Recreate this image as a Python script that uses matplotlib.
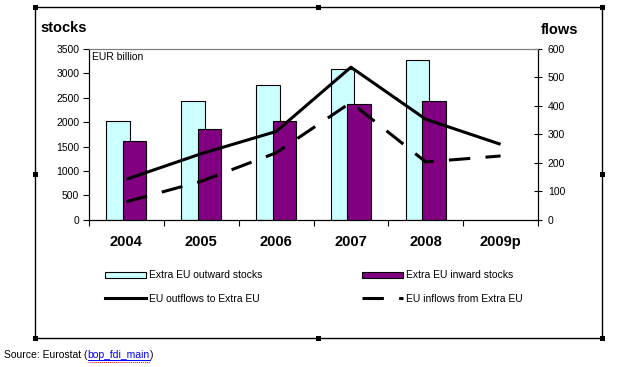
import numpy as np
import matplotlib
matplotlib.use("Agg")
import matplotlib.pyplot as plt
from matplotlib.patches import Rectangle, Patch
from matplotlib.lines import Line2D

plt.rcParams['font.family'] = ['Liberation Sans', 'DejaVu Sans']

# ---- data ----
years = ["2004", "2005", "2006", "2007", "2008", "2009p"]
outward_stocks = [2030, 2430, 2760, 3100, 3270, np.nan]
inward_stocks = [1620, 1850, 2030, 2370, 2430, np.nan]
outflows = [142, 232, 310, 536, 353, 265]
inflows = [63, 135, 235, 412, 203, 224]
stock_ticks = [0, 500, 1000, 1500, 2000, 2500, 3000, 3500]
flow_ticks = [0, 100, 200, 300, 400, 500, 600]

W, H = 627, 367
fig = plt.figure(figsize=(W / 100, H / 100), dpi=100)

def fx(x):
    return x / W

def fy(y):
    return 1 - y / H

# plot area in pixels
L, R, T, B = 89, 538, 49, 219.7
ax = fig.add_axes([fx(L), fy(B), fx(R) - fx(L), fy(T) - fy(B)])
ax2 = ax.twinx()

x = np.arange(len(years))
bw = 0.315
off = 0.11
ax.bar(x - off, outward_stocks, bw, color="#CCFFFF", edgecolor="black", linewidth=0.8, zorder=2)
ax.bar(x + off, inward_stocks, bw, color="#800080", edgecolor="black", linewidth=0.8, zorder=3)

ax2.plot(x, outflows, color="black", lw=2.2, solid_capstyle="butt")
ax2.plot(x, inflows, color="black", lw=2.2, dashes=(7, 5), dash_capstyle="butt")

ax.set_xlim(-0.5, len(years) - 0.5)
ax.set_ylim(0, 3500)
ax2.set_ylim(0, 600)
ax.set_yticks(stock_ticks)
ax.set_yticklabels([str(v) for v in stock_ticks], fontsize=7.5)
ax2.set_yticks(flow_ticks)
ax2.set_yticklabels([str(v) for v in flow_ticks], fontsize=7.5)

ax.set_xticks(np.arange(-0.5, len(years), 1.0))
ax.set_xticklabels([])
ax.set_xticks(x, minor=True)
ax.set_xticklabels(years, minor=True, fontsize=10.5, fontweight="bold")
ax.tick_params(axis="x", which="major", direction="out", length=4, width=0.8)
ax.tick_params(axis="x", which="minor", length=0, pad=11)
ax.tick_params(axis="y", direction="out", length=4, width=0.8, pad=3)
ax2.tick_params(axis="y", direction="inout", length=6, width=0.8, pad=4)

for a in (ax, ax2):
    a.spines["top"].set_color("#808080")
    a.spines["top"].set_linewidth(0.8)
    a.spines["left"].set_linewidth(0.8)
    a.spines["right"].set_linewidth(0.8)
    a.spines["bottom"].set_linewidth(0.8)

ax.text(0.006, 0.985, "EUR billion", transform=ax.transAxes, fontsize=7.5, va="top", ha="left")

fig.text(fx(40), fy(28), "stocks", fontsize=10.5, fontweight="bold", va="center", ha="left")
fig.text(fx(541), fy(30), "flows", fontsize=10.5, fontweight="bold", va="center", ha="left")

# legends
h1 = [Patch(facecolor="#CCFFFF", edgecolor="black", linewidth=0.8),
      Line2D([0], [0], color="black", lw=2.2)]
l1 = ["Extra EU outward stocks", "EU outflows to Extra EU"]
h2 = [Patch(facecolor="#800080", edgecolor="black", linewidth=0.8),
      Line2D([0], [0], color="black", lw=2.2, dashes=(7, 5))]
l2 = ["Extra EU inward stocks", "EU inflows from Extra EU"]
common = dict(frameon=False, fontsize=7.5, handlelength=3.9, handleheight=0.6,
              handletextpad=0.35, labelspacing=1.25, borderpad=0, borderaxespad=0,
              loc="upper left")
leg1 = fig.legend(h1, l1, bbox_to_anchor=(fx(105), fy(270.5)), **common)
leg2 = fig.legend(h2, l2, bbox_to_anchor=(fx(362), fy(270.5)), **common)

# outer border with selection handles
fig.add_artist(Rectangle((fx(35), fy(338)), fx(602) - fx(35), fy(7) - fy(338),
                         transform=fig.transFigure, fill=False, edgecolor="black", linewidth=1.0))
hs = 5
for (hx, hy) in [(35, 7), (318, 7), (602, 7), (35, 174), (602, 174), (35, 338), (318, 338), (602, 338)]:
    fig.add_artist(Rectangle((fx(hx - hs / 2), fy(hy + hs / 2)), hs / W, hs / H,
                             transform=fig.transFigure, facecolor="black", edgecolor="none"))

# source line
fig.canvas.draw()
r = fig.canvas.get_renderer()
t1 = fig.text(fx(4), fy(355), "Source: Eurostat (", fontsize=7.5, va="center", ha="left")
e1 = t1.get_window_extent(r)
t2 = fig.text(e1.x1 / W, fy(355), "bop_fdi_main", fontsize=7.5, va="center", ha="left", color="#0000FF")
e2 = t2.get_window_extent(r)
t3 = fig.text(e2.x1 / W, fy(355), ")", fontsize=7.5, va="center", ha="left")
fig.add_artist(Line2D([e2.x0 / W, e2.x1 / W], [fy(360), fy(360)], transform=fig.transFigure,
                      color="#0000FF", lw=0.7))
fig.add_artist(Line2D([e2.x0 / W, e2.x1 / W], [fy(361.5), fy(361.5)], transform=fig.transFigure,
                      color="red", lw=0.7, linestyle=(0, (1, 1))))

fig.savefig("out.png", dpi=100)
